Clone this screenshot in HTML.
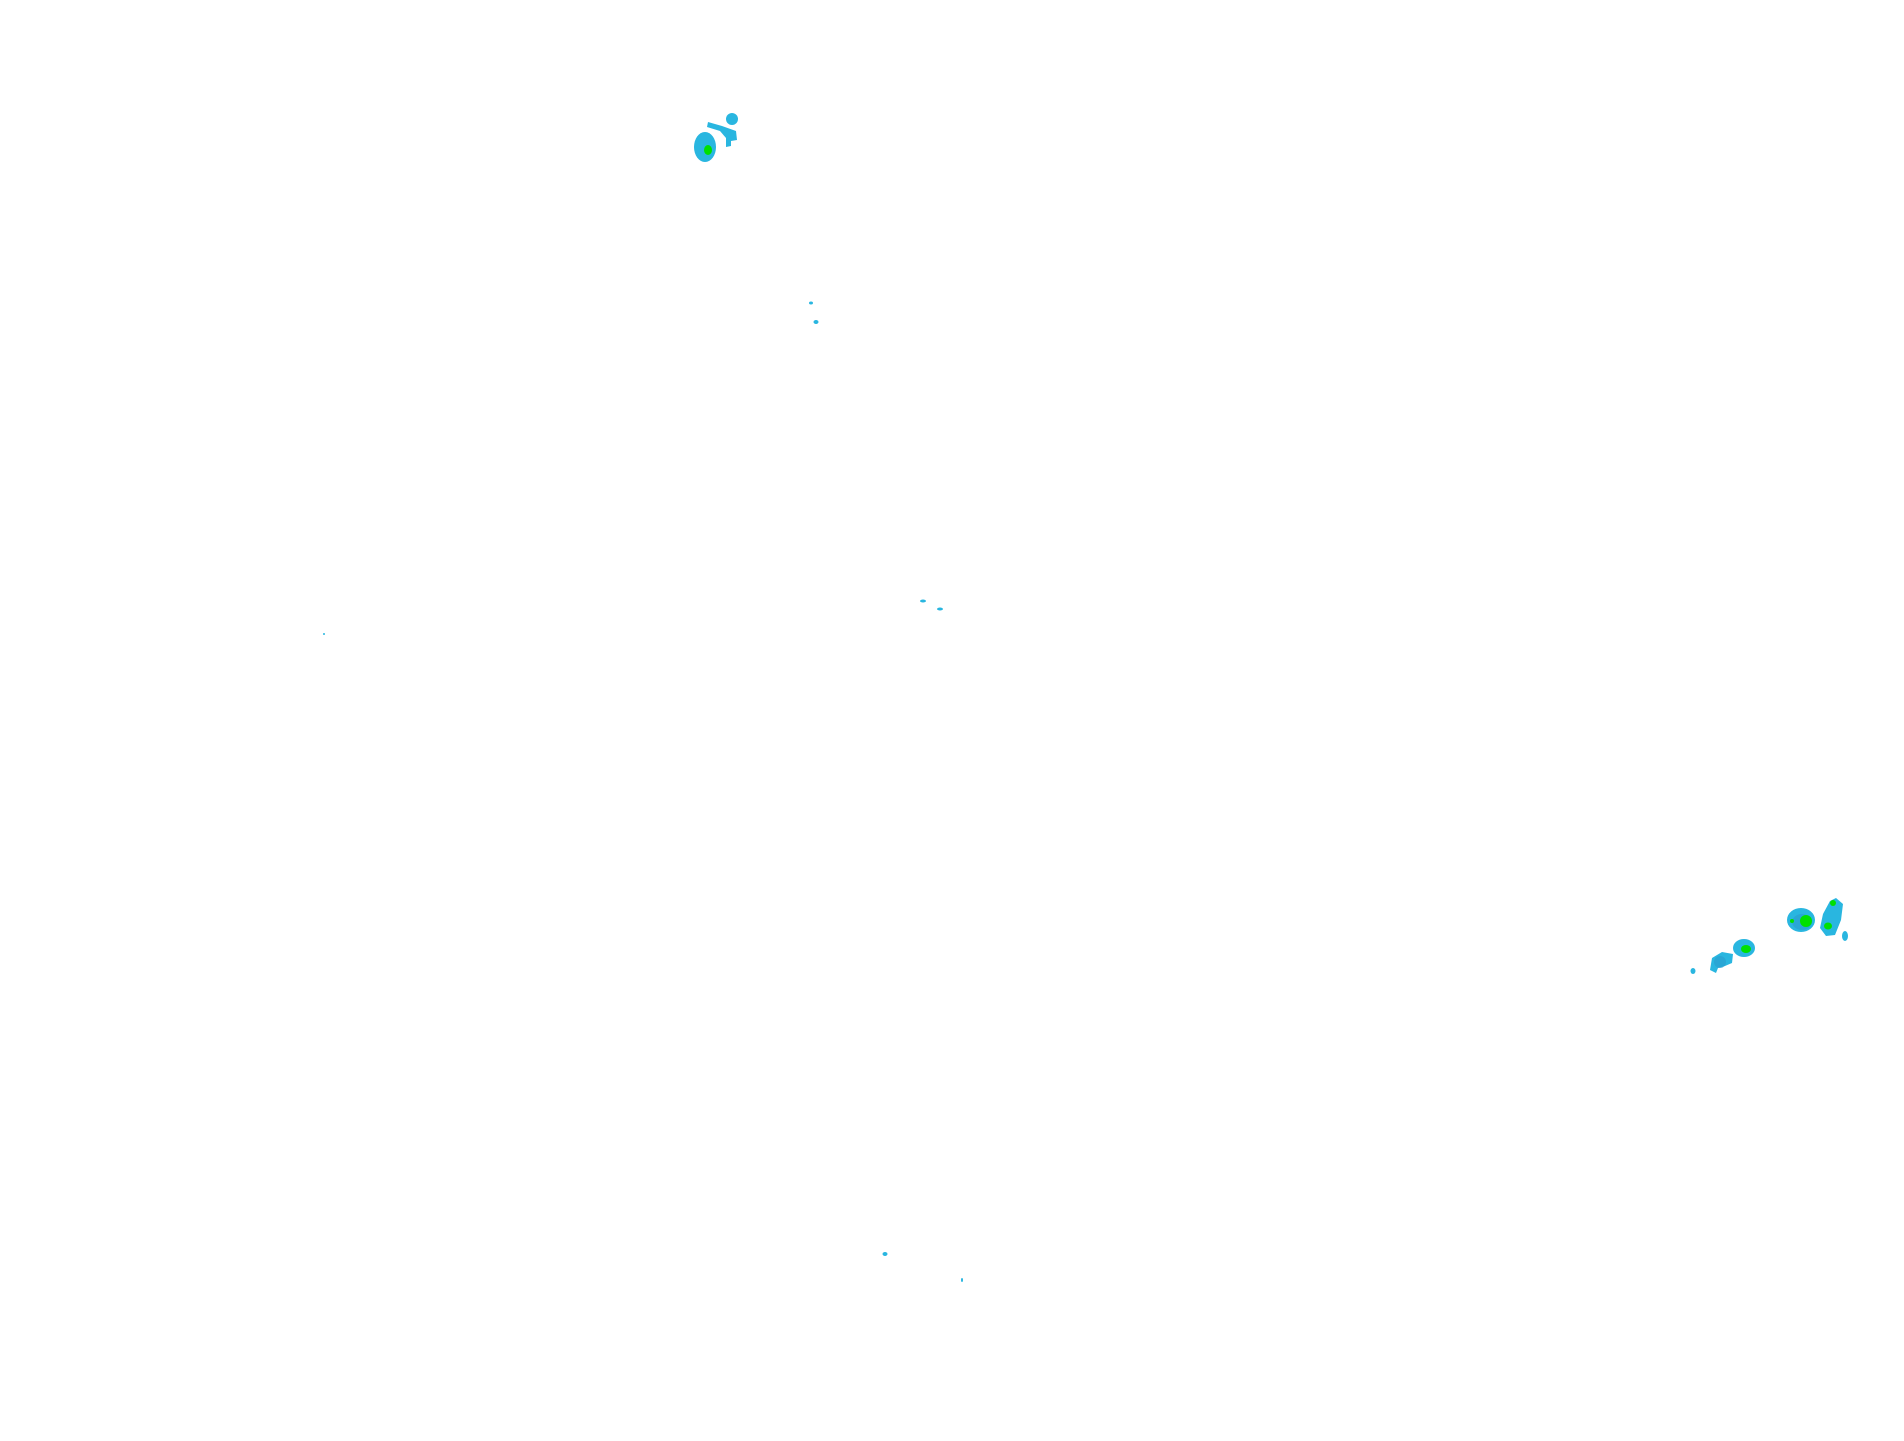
<!DOCTYPE html>
<html><head><style>html,body{margin:0;padding:0;background:#fff;}svg{display:block}</style></head>
<body>
<svg width="1904" height="1441" xmlns="http://www.w3.org/2000/svg">
<g fill="#29b6e0">
<ellipse cx="705" cy="147" rx="11" ry="15"/>
<ellipse cx="732" cy="119" rx="6" ry="6"/>
<path d="M708 122 L722 126 L736 131 L737 140 L731 141 L731 146 L726 147 L726 138 L720 131 L707 127Z"/>
<ellipse cx="1801" cy="920" rx="14" ry="12"/>
<path d="M1836 898 L1843 904 L1841 920 L1835 935 L1826 936 L1820 928 L1823 914 L1830 901Z"/>
<ellipse cx="1845" cy="936" rx="3" ry="5"/>
<ellipse cx="1744" cy="948" rx="11" ry="9"/>
<path d="M1712 958 L1722 952 L1733 954 L1732 963 L1725 966 L1718 968 L1716 973 L1710 970Z"/>
<ellipse cx="1693" cy="971" rx="2.5" ry="3"/>
<ellipse cx="811" cy="303" rx="2" ry="1.5"/>
<ellipse cx="816" cy="322" rx="2.5" ry="2"/>
<ellipse cx="923" cy="601" rx="3" ry="1.5"/>
<ellipse cx="940" cy="609" rx="3" ry="1.5"/>
<ellipse cx="885" cy="1254" rx="2.5" ry="2"/>
<ellipse cx="962" cy="1280" rx="1" ry="2"/>
<ellipse cx="324" cy="634" rx="1" ry="1"/>
</g>
<g fill="#2a9fd0" opacity="0.7">
<ellipse cx="1802" cy="922" rx="10" ry="8"/>
<ellipse cx="1720" cy="962" rx="6" ry="6"/>
</g>
<g fill="#00e000">
<ellipse cx="708" cy="150" rx="4" ry="5"/>
<ellipse cx="1806" cy="921" rx="6" ry="6"/>
<ellipse cx="1833" cy="903" rx="3" ry="3"/>
<ellipse cx="1828" cy="926" rx="4" ry="3.5"/>
<ellipse cx="1746" cy="949" rx="5" ry="4"/>
<ellipse cx="1792" cy="921" rx="2" ry="2"/>
</g>
</svg>
</body></html>
